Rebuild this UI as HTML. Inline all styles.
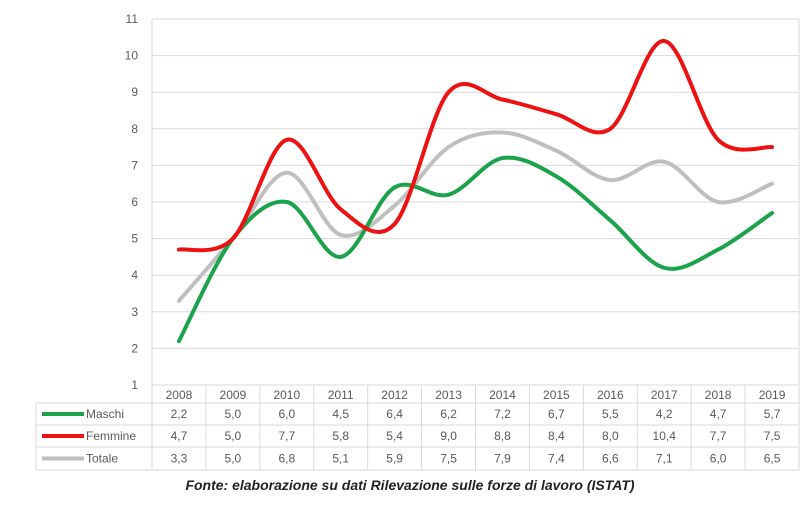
<!DOCTYPE html>
<html><head><meta charset="utf-8"><style>
body{margin:0;background:#fff;width:809px;height:504px;overflow:hidden;font-family:"Liberation Sans",sans-serif}
</style></head><body>
<svg id="s" width="809" height="504" xmlns="http://www.w3.org/2000/svg" font-family="Liberation Sans, sans-serif">
<rect width="809" height="504" fill="#fff"/>
<g id="grid" stroke="#d9d9d9" stroke-width="1"></g>
<g id="lab" fill="#595959" font-size="12" text-anchor="end"></g>
<g id="tab" fill="#595959" font-size="12" text-anchor="middle"></g>
<g id="lines" fill="none" stroke-width="4" stroke-linecap="round"></g>
<text x="410" y="490" text-anchor="middle" font-size="14" font-style="italic" font-weight="bold" fill="#222">Fonte: elaborazione su dati Rilevazione sulle forze di lavoro (ISTAT)</text>
</svg>
<script>
const L=152,R=799,T=19,B=385,cw=(R-L)/12,ns="http://www.w3.org/2000/svg";
const Y=v=>B-(v-1)*(B-T)/10;
function el(p,t,a,txt){const e=document.createElementNS(ns,t);for(const k in a)e.setAttribute(k,a[k]);if(txt!=null)e.textContent=txt;document.getElementById(p).appendChild(e);}
for(let v=1;v<=11;v++){el('grid','line',{x1:L,x2:R,y1:Y(v),y2:Y(v)});el('lab','text',{x:138,y:Y(v)+4},v);}
el('grid','line',{x1:L,x2:L,y1:T,y2:470});el('grid','line',{x1:R,x2:R,y1:T,y2:470});
const rows=[403,425,447,470];
el('grid','line',{x1:36,x2:R,y1:403,y2:403});
rows.slice(1).forEach(y=>el('grid','line',{x1:36,x2:R,y1:y,y2:y}));
el('grid','line',{x1:36,x2:36,y1:403,y2:470});
for(let i=1;i<12;i++)el('grid','line',{x1:L+i*cw,x2:L+i*cw,y1:385,y2:470});
const years=[2008,2009,2010,2011,2012,2013,2014,2015,2016,2017,2018,2019];
const data=[["Maschi","#1aa34a",[2.2,5.0,6.0,4.5,6.4,6.2,7.2,6.7,5.5,4.2,4.7,5.7]],
["Femmine","#ee1111",[4.7,5.0,7.7,5.8,5.4,9.0,8.8,8.4,8.0,10.4,7.7,7.5]],
["Totale","#bfbfbf",[3.3,5.0,6.8,5.1,5.9,7.5,7.9,7.4,6.6,7.1,6.0,6.5]]];
years.forEach((y,i)=>el('tab','text',{x:L+(i+.5)*cw,y:399},y));
const order=[2,0,1];
data.forEach((d,r)=>{const yy=(rows[r]+rows[r+1])/2+4;
 el('lines','line',{x1:42,x2:84,y1:yy-4,y2:yy-4,stroke:d[1],'stroke-linecap':'butt'});
 el('tab','text',{x:86,y:yy,'text-anchor':'start'},d[0]);
 d[2].forEach((v,i)=>el('tab','text',{x:L+(i+.5)*cw,y:yy},v.toFixed(1).replace('.',',')));
});
order.forEach(k=>{const d=data[k];const P=d[2].map((v,i)=>[L+(i+.5)*cw,Y(v)]);
 let s="M"+P[0];const t=0.5/3*2;
 for(let i=0;i<P.length-1;i++){const p0=P[Math.max(i-1,0)],p1=P[i],p2=P[i+1],p3=P[Math.min(i+2,P.length-1)];
  const c1=[p1[0]+(p2[0]-p0[0])*t/2,p1[1]+(p2[1]-p0[1])*t/2],c2=[p2[0]-(p3[0]-p1[0])*t/2,p2[1]-(p3[1]-p1[1])*t/2];
  s+=" C"+c1+" "+c2+" "+p2;}
 el('lines','path',{d:s,stroke:d[1]});});
</script>
</body></html>
